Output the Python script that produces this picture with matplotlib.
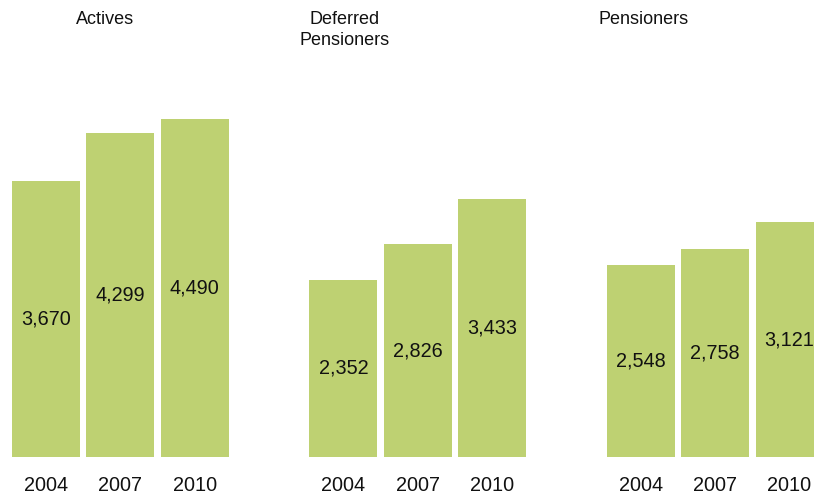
import matplotlib
matplotlib.use("Agg")
import matplotlib.pyplot as plt

plt.rcParams['font.family'] = ['Liberation Sans', 'DejaVu Sans']

groups = ["Actives", "Deferred\nPensioners", "Pensioners"]
years = ["2004", "2007", "2010"]
actives = [3670, 4299, 4490]
deferred = [2352, 2826, 3433]
pensioners = [2548, 2758, 3121]
series = [actives, deferred, pensioners]

bar_color = "#BED172"

W, H = 814, 498
fig = plt.figure(figsize=(W / 100, H / 100), dpi=100)

# pixel layout: bars sit on y=457px (from top), ~74px per bar slot
base_px = 457
px_per_unit = 0.07528
ymax = 6000
ax_h_px = ymax * px_per_unit
ax = fig.add_axes([0, (H - base_px) / H, 1, ax_h_px / H])

slot = 74.35
first_center = 46.0
ax.set_xlim(-first_center / slot, (W - first_center) / slot)
ax.set_ylim(0, ymax)

positions = []
labels = []
for g, vals in enumerate(series):
    xs = [g * 4 + i for i in range(len(vals))]
    ax.bar(xs, vals, width=68 / slot, color=bar_color, edgecolor="none")
    for x, v in zip(xs, vals):
        ax.text(x, v / 2, f"{v:,}", ha="center", va="center",
                fontsize=14.3, color="#111111")
    positions += xs
    labels += years

ax.set_xticks(positions)
ax.set_xticklabels(labels, fontsize=14.3, color="#111111")
ax.tick_params(axis="x", length=0, pad=13.5)
ax.set_yticks([])
for s in ax.spines.values():
    s.set_visible(False)
ax.patch.set_alpha(0)

# group titles
title_x = [105, 345, 644]
for tx, name in zip(title_x, groups):
    fig.text(tx / W, 1 - 11 / H, name, ha="center", va="top",
             fontsize=13, color="#111111", linespacing=1.3)

fig.savefig("out.png", dpi=100)
